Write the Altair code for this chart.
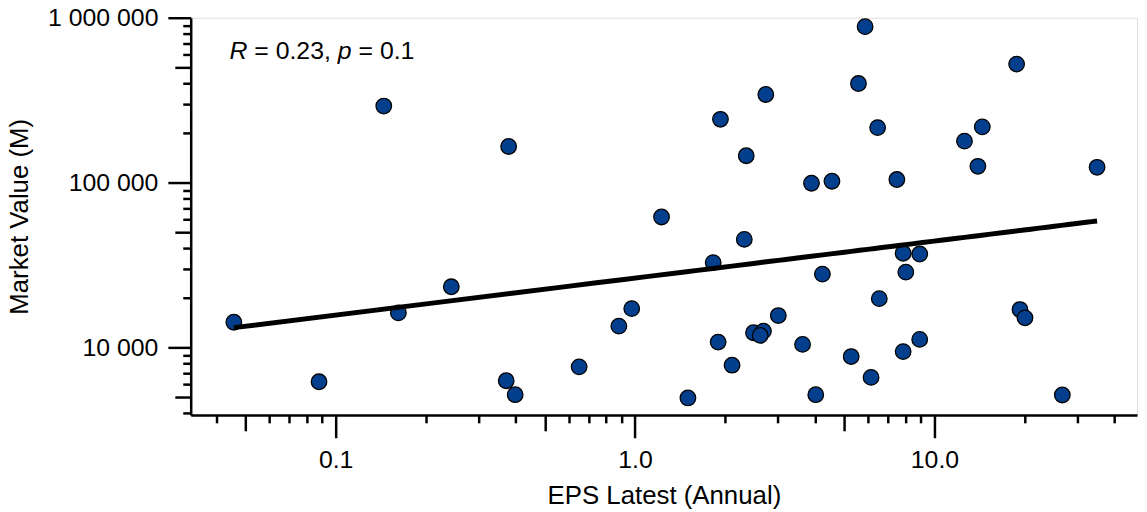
import altair as alt
import pandas as pd

# EPS Latest (Annual) and Market Value (M)
eps = [0.0457, 0.0880, 0.1448, 0.162, 0.2434, 0.3783, 0.3713, 0.3978, 0.6506, 0.883,
       0.975, 1.226, 1.502, 1.824, 1.895, 1.929, 2.109, 2.317, 2.352, 2.487,
       2.685, 2.618, 2.734, 3.010, 5.868, 5.576, 6.461, 3.885, 4.547, 7.491,
       18.82, 14.45, 12.60, 13.97, 34.94, 7.862, 8.931, 4.225, 8.026, 6.544,
       3.627, 5.272, 7.862, 8.931, 6.143, 4.015, 19.31, 20.07, 26.74]
mv = [14200, 6180, 291000, 16180, 23310, 165500, 6270, 5160, 7610, 13440,
      17180, 61800, 4930, 32660, 10760, 241900, 7790, 45170, 145400, 12260,
      12540, 11810, 342100, 15590, 882600, 398700, 215400, 99000, 101800, 104300,
      523200, 217500, 178300, 125400, 123700, 37190, 36830, 27800, 28580, 19740,
      10420, 8790, 9420, 11170, 6570, 5160, 16950, 15100, 5140]

x_major = [0.1, 1, 10]
x_mid = [0.05, 0.5, 5]
x_minor = [0.04, 0.06, 0.07, 0.08, 0.09, 0.2, 0.3, 0.4, 0.6, 0.7, 0.8, 0.9,
           2, 3, 4, 6, 7, 8, 9, 20, 30, 40]
y_major = [10000, 100000, 1000000]
y_mid = [5000, 50000, 500000]
y_minor = [4000, 6000, 7000, 8000, 9000, 20000, 30000, 40000, 60000, 70000, 80000, 90000,
           200000, 300000, 400000, 600000, 700000, 800000, 900000]

annot_text = ["R", "= 0.23,", "p", "= 0.1"]
annot_style = ["italic", "normal", "italic", "normal"]

FONT = "Liberation Sans"
df = pd.DataFrame({"eps": eps, "mv": mv})


def tick_size(major, mid):
    return {
        "condition": [
            {"test": f"indexof({major}, datum.value) >= 0", "value": 23},
            {"test": f"indexof({mid}, datum.value) >= 0", "value": 16},
        ],
        "value": 8,
    }


x_axis = alt.Axis(
    values=x_major + x_mid + x_minor,
    labelExpr=f"indexof({x_major}, datum.value) >= 0 ? format(datum.value, '.1f') : ''",
    tickSize=tick_size(x_major, x_mid),
    grid=False, domainColor="black", domainWidth=2.5, tickColor="black", tickWidth=2.5,
    labelFont=FONT, labelFontSize=25, labelColor="black", labelPadding=10,
    labelFlush=False, labelOverlap=False,
    titleFont=FONT, titleFontSize=26, titleFontWeight="normal", titleColor="black",
    titleBaseline="alphabetic", titleY=89,
)
y_axis = alt.Axis(
    values=y_major + y_mid + y_minor,
    labelExpr=f"indexof({y_major}, datum.value) >= 0 ? replace(replace(format(datum.value, ',d'), ',', ' '), ',', ' ') : ''",
    tickSize=tick_size(y_major, y_mid),
    grid=False, domainColor="black", domainWidth=2.5, tickColor="black", tickWidth=2.5,
    labelFont=FONT, labelFontSize=25, labelColor="black", labelPadding=10,
    labelFlush=False, labelOverlap=False,
    titleFont=FONT, titleFontSize=26, titleFontWeight="normal", titleColor="black",
    titleBaseline="alphabetic", titleX=-164,
)

x_scale = alt.Scale(type="log", domain=[0.0328, 47.5], nice=False)
y_scale = alt.Scale(type="log", domain=[3890, 1000000], nice=False)

base = alt.Chart(df)
points = base.mark_circle(size=245, color="#033f8d", stroke="black", strokeWidth=1.3, opacity=1).encode(
    x=alt.X("eps:Q", scale=x_scale, axis=x_axis, title="EPS Latest (Annual)"),
    y=alt.Y("mv:Q", scale=y_scale, axis=y_axis, title="Market Value (M)"),
)
line = base.transform_regression("eps", "mv", method="pow").mark_line(
    color="black", strokeWidth=5
).encode(
    x=alt.X("eps:Q", scale=x_scale),
    y=alt.Y("mv:Q", scale=y_scale),
)

annot_x = [39, 64, 148, 169]
annot_layers = []
for txt, sty, ax in zip(annot_text, annot_style, annot_x):
    annot_layers.append(
        alt.Chart(pd.DataFrame({"t": [txt]})).mark_text(
            align="left", baseline="alphabetic", font=FONT, fontSize=25,
            fontStyle=sty, color="black"
        ).encode(x=alt.value(ax), y=alt.value(42), text="t:N")
    )

chart = alt.layer(points, line, *annot_layers).properties(
    width=953, height=400,
    autosize=alt.AutoSizeParams(type="none"),
    padding={"left": 184, "top": 8, "right": 2, "bottom": 96},
).configure_view(stroke=None).configure(background="white")

chart.save("out.html", embed_options={"renderer": "svg", "actions": False})
